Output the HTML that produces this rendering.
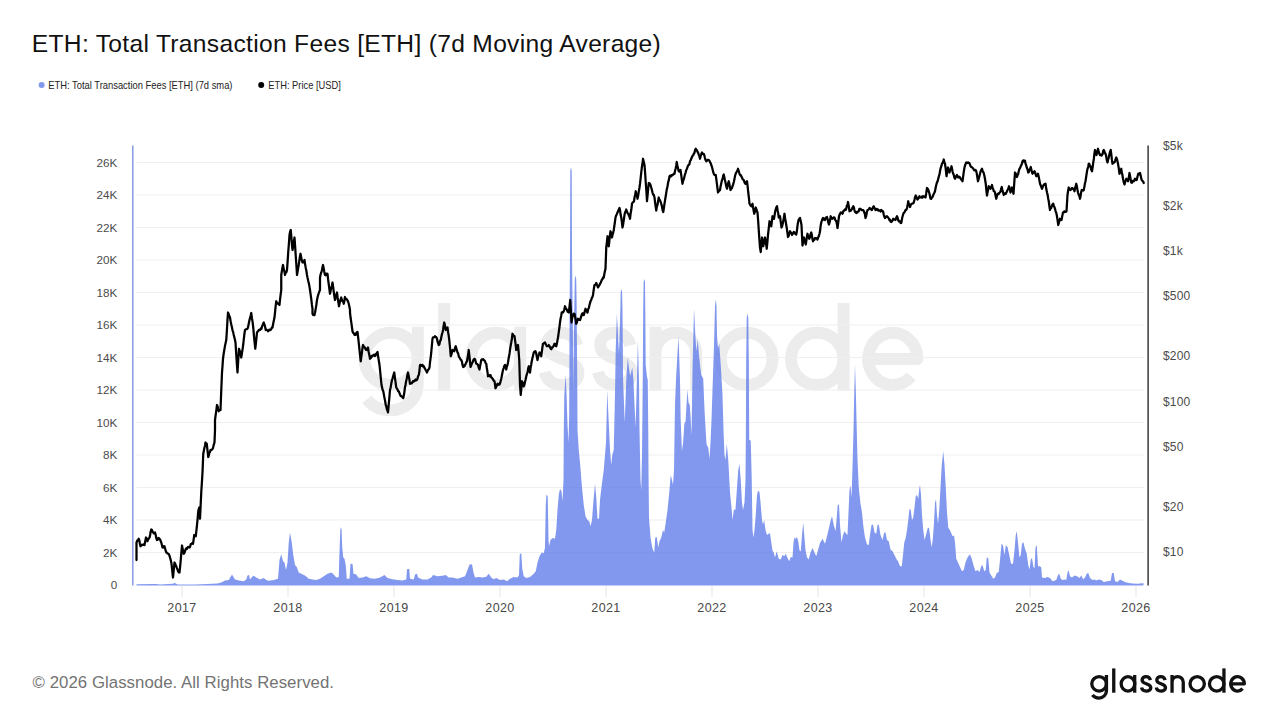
<!DOCTYPE html>
<html><head><meta charset="utf-8"><title>ETH: Total Transaction Fees [ETH] (7d Moving Average)</title>
<style>
html,body{margin:0;padding:0;background:#fff;}
body{width:1280px;height:720px;overflow:hidden;position:relative;font-family:"Liberation Sans",sans-serif;}
svg{position:absolute;left:0;top:0;}
text{font-family:"Liberation Sans",sans-serif;}
</style></head><body>
<svg width="1280" height="720" viewBox="0 0 1280 720">
<defs><g id="logo" fill="none" stroke-width="3.3" stroke-linecap="butt" stroke-linejoin="round">
<ellipse cx="9" cy="-8.85" rx="7.35" ry="7.2"/>
<path d="M16.35,-17.7 V-2 A7.5,7.35 0 0 1 8.85,5.35 C6,5.35 3.8,4.2 2.3,2.3"/>
<path d="M23.65,-24.3 V0"/>
<ellipse cx="37.85" cy="-8.85" rx="6.8" ry="7.2"/>
<path d="M44.6,-17.7 V0"/>
<path id="ls" d="M60.3,-12.6 C59.8,-14.8 58.3,-16.05 56.0,-16.05 C53.6,-16.05 52.0,-14.6 52.0,-12.7 C52.0,-10.6 53.8,-9.7 56.2,-8.9 C58.8,-8.0 60.7,-7.1 60.7,-5.0 C60.7,-2.9 58.7,-1.65 56.2,-1.65 C53.6,-1.65 51.9,-3.0 51.4,-5.2"/>
<use href="#ls" x="14.7"/>
<path d="M81.95,0 V-17.7 M81.95,-10.45 A5.6,5.6 0 0 1 93.15,-10.45 V0"/>
<ellipse cx="107.1" cy="-8.85" rx="7.15" ry="7.2"/>
<ellipse cx="126.6" cy="-8.85" rx="7.25" ry="7.2"/>
<path d="M133.85,-24.3 V0"/>
<path d="M140.75,-8.85 H154.25 A6.8,7.2 0 1 0 152.5,-4.03"/>
</g></defs>
<rect width="1280" height="720" fill="#fff"/>
<!-- watermark -->
<use href="#logo" transform="translate(358.5,391) scale(3.624)" stroke="#ececec"/>
<!-- gridlines -->
<g stroke="#efefef" stroke-width="1.1"><line x1="136.5" x2="1143.8" y1="162.5" y2="162.5"/><line x1="136.5" x2="1143.8" y1="195.0" y2="195.0"/><line x1="136.5" x2="1143.8" y1="227.5" y2="227.5"/><line x1="136.5" x2="1143.8" y1="260.0" y2="260.0"/><line x1="136.5" x2="1143.8" y1="292.5" y2="292.5"/><line x1="136.5" x2="1143.8" y1="325.0" y2="325.0"/><line x1="136.5" x2="1143.8" y1="357.5" y2="357.5"/><line x1="136.5" x2="1143.8" y1="390.0" y2="390.0"/><line x1="136.5" x2="1143.8" y1="422.5" y2="422.5"/><line x1="136.5" x2="1143.8" y1="455.0" y2="455.0"/><line x1="136.5" x2="1143.8" y1="487.5" y2="487.5"/><line x1="136.5" x2="1143.8" y1="520.0" y2="520.0"/><line x1="136.5" x2="1143.8" y1="552.5" y2="552.5"/></g>
<g stroke="#e4e4e4" stroke-width="1"><line x1="182.0" x2="182.0" y1="586" y2="597"/><line x1="288.0" x2="288.0" y1="586" y2="597"/><line x1="394.0" x2="394.0" y1="586" y2="597"/><line x1="500.0" x2="500.0" y1="586" y2="597"/><line x1="606.0" x2="606.0" y1="586" y2="597"/><line x1="712.0" x2="712.0" y1="586" y2="597"/><line x1="818.0" x2="818.0" y1="586" y2="597"/><line x1="924.0" x2="924.0" y1="586" y2="597"/><line x1="1030.0" x2="1030.0" y1="586" y2="597"/><line x1="1136.0" x2="1136.0" y1="586" y2="597"/></g>
<!-- fee area -->
<path d="M136.50,585.50 L136.50,584.30 L152.50,584.00 L156.00,584.00 L160.00,584.60 L172.50,583.75 L175.00,583.00 L177.50,584.50 L195.00,584.50 L207.50,584.00 L217.50,583.50 L221.25,582.50 L225.00,580.50 L228.75,580.00 L232.00,574.50 L235.00,579.50 L238.75,580.50 L243.75,581.25 L246.25,579.50 L247.50,575.50 L249.00,575.00 L250.00,579.50 L252.00,577.00 L253.75,575.75 L256.25,577.50 L260.00,579.50 L263.75,578.00 L266.25,580.00 L268.75,580.75 L273.75,580.00 L278.00,578.75 L279.50,560.00 L281.25,554.25 L283.00,561.25 L284.50,562.50 L286.00,570.00 L287.50,562.50 L288.75,542.50 L290.00,532.50 L291.75,542.50 L293.25,555.00 L295.00,565.00 L296.75,567.00 L298.75,572.50 L301.25,573.75 L305.00,575.50 L308.75,578.75 L312.50,579.50 L316.25,580.00 L320.00,578.75 L323.75,576.25 L327.50,573.75 L331.25,572.50 L333.75,574.50 L336.25,577.50 L338.75,577.00 L339.30,558.00 L340.30,530.00 L341.00,527.00 L341.60,530.00 L342.20,547.50 L343.25,557.50 L344.50,558.75 L345.75,565.00 L346.75,578.75 L349.50,578.75 L350.50,563.75 L352.50,563.75 L353.50,573.75 L356.25,574.50 L358.75,578.00 L362.50,577.50 L366.25,576.25 L370.00,578.25 L375.00,578.75 L380.00,577.50 L384.50,575.00 L387.50,578.00 L392.50,579.25 L397.50,580.00 L402.50,580.50 L406.25,579.50 L407.00,569.25 L409.25,568.75 L410.00,578.75 L413.75,579.50 L415.00,574.50 L417.00,573.75 L418.00,577.50 L422.50,579.50 L427.50,579.50 L431.25,577.50 L433.00,575.00 L437.50,576.25 L442.50,575.75 L445.75,575.00 L448.75,577.50 L452.50,577.50 L457.50,578.75 L461.25,577.50 L465.00,576.25 L467.50,570.00 L469.50,564.50 L472.00,564.25 L473.50,572.50 L475.00,577.50 L478.75,577.00 L482.50,577.50 L486.25,576.75 L488.75,573.75 L491.25,577.50 L493.75,579.25 L496.25,578.00 L500.00,580.00 L503.75,579.50 L507.00,581.25 L510.00,578.75 L513.75,577.00 L517.50,577.50 L519.00,575.00 L519.75,554.50 L521.25,553.00 L522.25,568.75 L523.75,576.25 L526.25,578.00 L530.00,577.00 L533.75,573.75 L535.75,571.25 L537.50,562.50 L539.50,556.25 L541.75,552.50 L543.75,553.25 L545.00,547.50 L545.75,505.00 L546.50,494.50 L547.75,496.25 L548.50,540.00 L549.00,546.25 L550.50,540.00 L552.50,538.00 L555.00,538.75 L556.25,530.00 L557.50,510.00 L558.75,495.00 L560.00,488.75 L561.50,491.25 L562.50,501.25 L563.50,480.00 L563.80,430.00 L564.30,395.00 L565.60,374.50 L566.60,395.00 L567.50,425.00 L568.50,443.00 L569.20,415.00 L569.60,315.00 L570.00,250.00 L570.30,171.00 L571.00,167.00 L571.70,171.00 L572.00,250.00 L572.50,300.00 L573.00,340.00 L573.50,390.00 L574.00,330.00 L574.40,300.00 L574.80,279.00 L575.50,275.50 L576.20,279.00 L576.60,300.00 L577.25,380.00 L577.50,430.00 L578.75,450.00 L580.00,462.50 L582.00,487.50 L583.75,505.00 L585.50,516.25 L587.50,520.00 L589.25,521.25 L590.50,526.25 L592.00,520.00 L593.50,500.00 L595.00,483.75 L596.25,497.50 L597.50,518.75 L599.00,518.75 L600.00,500.00 L601.75,485.00 L603.75,470.00 L605.00,455.00 L606.00,442.50 L607.25,390.60 L608.50,417.50 L610.00,450.00 L611.25,465.00 L612.25,455.00 L613.75,450.00 L614.75,405.00 L615.25,380.00 L615.70,350.00 L616.90,313.00 L618.25,340.00 L619.00,352.50 L619.80,330.00 L620.30,310.00 L620.70,292.00 L621.40,289.00 L622.10,292.00 L622.50,310.00 L623.10,380.00 L624.75,422.50 L626.25,380.00 L627.75,357.50 L629.40,371.00 L630.25,376.00 L632.25,367.50 L633.50,380.00 L633.90,392.00 L635.60,427.50 L636.90,380.00 L637.90,341.00 L639.00,380.00 L639.50,430.00 L640.50,480.00 L641.25,490.00 L642.00,455.00 L642.75,380.00 L643.20,310.00 L643.60,282.00 L644.30,279.00 L645.00,282.00 L645.30,310.00 L645.70,365.00 L646.90,376.00 L647.75,380.00 L648.25,430.00 L648.50,470.00 L649.00,517.50 L650.50,537.50 L652.50,548.75 L654.25,552.50 L655.25,537.50 L656.75,537.00 L658.25,547.50 L659.50,541.25 L661.25,537.50 L663.00,530.00 L664.25,532.50 L665.75,522.50 L667.50,510.00 L669.25,492.50 L670.75,475.00 L672.00,480.00 L673.00,485.00 L674.00,470.00 L675.00,405.00 L676.00,380.00 L677.50,352.50 L678.50,336.25 L679.50,365.00 L680.00,380.00 L680.60,417.50 L681.90,451.00 L683.10,442.50 L684.40,423.75 L685.60,421.25 L686.50,405.00 L687.50,389.40 L688.50,402.50 L689.75,405.00 L690.60,417.50 L691.50,435.00 L692.00,405.00 L692.50,370.00 L694.00,308.75 L695.60,340.00 L696.50,351.25 L697.75,339.40 L698.75,352.50 L700.00,365.00 L701.25,375.00 L703.25,378.75 L704.50,410.00 L706.25,440.00 L706.75,445.00 L708.25,447.50 L709.50,459.00 L710.50,442.50 L711.50,420.00 L712.50,390.00 L714.00,345.00 L715.00,306.00 L715.75,299.50 L716.50,306.00 L717.00,335.00 L718.00,348.75 L719.25,343.75 L720.75,365.00 L722.50,395.00 L723.50,430.00 L724.50,455.00 L725.50,460.00 L726.75,443.75 L728.25,460.00 L730.00,492.50 L731.75,510.00 L732.50,520.00 L733.75,510.00 L735.50,509.50 L737.00,487.50 L738.25,470.00 L739.50,463.75 L740.75,480.00 L742.00,502.50 L743.00,510.00 L744.50,502.50 L745.50,480.00 L745.90,430.00 L746.20,360.00 L746.70,318.00 L747.50,313.50 L748.30,318.00 L748.80,360.00 L749.25,440.00 L750.00,440.00 L750.75,441.25 L751.75,480.00 L752.50,530.00 L753.50,537.50 L754.50,530.00 L755.75,515.00 L757.00,495.00 L758.00,490.75 L759.50,492.00 L760.75,505.00 L762.00,520.00 L763.00,524.50 L764.25,520.00 L765.50,530.00 L767.00,535.00 L768.75,533.75 L770.00,533.00 L771.25,542.50 L772.50,550.50 L773.75,552.50 L775.00,557.50 L776.75,551.25 L778.75,558.75 L780.75,559.50 L782.50,555.00 L784.25,556.25 L785.75,553.75 L787.50,558.00 L789.25,561.25 L790.75,557.00 L792.50,557.50 L793.50,542.50 L794.50,537.50 L795.75,538.75 L797.00,537.00 L798.25,541.25 L799.50,550.50 L800.75,551.25 L802.00,535.00 L803.25,522.50 L804.25,535.00 L805.50,550.00 L807.00,557.50 L808.75,559.50 L810.50,552.50 L812.50,548.00 L814.50,552.50 L816.25,556.25 L818.00,550.00 L820.00,543.00 L822.50,538.75 L825.00,543.75 L827.00,536.25 L828.75,528.75 L830.50,521.25 L832.00,516.25 L833.75,525.00 L835.50,531.25 L836.75,517.50 L837.75,505.00 L839.00,504.50 L840.00,525.00 L841.50,542.50 L843.00,535.00 L844.50,531.25 L846.25,533.75 L847.50,535.00 L848.50,512.50 L849.50,490.00 L850.50,485.50 L851.50,497.50 L852.50,467.50 L853.50,430.00 L854.30,390.00 L855.00,365.00 L855.80,390.00 L856.75,430.00 L857.50,460.00 L858.75,487.50 L860.50,503.75 L862.00,512.50 L863.50,527.50 L865.00,537.50 L867.00,544.50 L868.75,545.00 L870.00,535.00 L871.50,525.00 L873.00,524.50 L874.50,532.50 L876.25,533.75 L877.50,525.00 L878.75,524.50 L880.50,535.00 L882.50,540.00 L884.25,532.50 L885.50,532.50 L887.00,540.00 L888.75,541.25 L890.50,549.50 L892.50,551.25 L894.50,555.00 L896.25,558.75 L898.00,561.25 L900.00,566.25 L901.75,566.25 L903.00,555.00 L904.25,542.50 L905.50,538.75 L907.00,530.00 L908.25,520.00 L909.50,508.75 L910.75,510.00 L912.00,520.00 L913.25,517.50 L914.50,507.50 L915.75,496.25 L917.00,495.00 L918.25,498.75 L919.25,488.75 L920.00,485.00 L921.00,495.00 L922.00,515.00 L923.25,530.00 L924.50,540.00 L926.00,535.00 L927.50,528.75 L929.00,527.50 L930.25,537.50 L931.50,547.50 L932.75,540.00 L934.00,522.50 L935.00,502.50 L936.00,499.50 L937.00,515.00 L938.00,523.75 L939.25,510.00 L940.50,487.50 L941.75,465.00 L943.25,451.25 L944.50,465.00 L945.75,487.50 L947.00,512.50 L948.25,527.50 L949.50,529.50 L951.00,532.50 L952.50,536.25 L954.00,535.50 L955.00,542.50 L956.25,558.75 L958.00,562.50 L960.00,567.00 L962.00,571.25 L963.75,570.00 L965.50,562.50 L967.50,557.50 L970.00,554.25 L971.75,558.75 L973.75,566.25 L975.50,571.25 L977.50,570.00 L979.50,572.00 L981.25,566.25 L982.50,565.00 L984.25,571.25 L985.75,570.00 L986.75,557.50 L988.25,558.00 L989.50,572.50 L991.25,575.50 L993.25,578.75 L995.00,577.50 L996.75,573.00 L998.75,572.00 L1000.00,560.00 L1001.50,543.75 L1003.00,545.50 L1004.50,555.00 L1005.75,545.50 L1007.50,547.00 L1009.25,555.00 L1011.00,563.75 L1013.00,563.75 L1014.50,550.00 L1015.75,535.00 L1016.75,531.25 L1018.00,542.50 L1019.50,557.50 L1020.75,555.00 L1022.00,543.75 L1023.25,542.00 L1025.00,548.75 L1026.75,553.75 L1028.25,565.00 L1029.50,569.50 L1030.75,559.50 L1032.00,558.00 L1033.25,566.25 L1034.50,568.75 L1035.50,547.50 L1036.75,545.00 L1038.00,566.25 L1040.00,566.25 L1041.25,567.50 L1042.00,577.50 L1045.00,578.00 L1047.50,577.00 L1050.00,578.00 L1052.50,581.25 L1056.25,580.00 L1058.00,575.00 L1059.25,573.75 L1060.75,578.75 L1062.50,580.00 L1064.50,579.50 L1066.25,580.00 L1067.50,572.50 L1068.50,570.00 L1070.00,576.25 L1072.00,577.50 L1074.50,575.50 L1077.00,576.25 L1079.50,578.00 L1081.25,575.50 L1083.25,579.50 L1085.00,577.50 L1086.75,573.75 L1088.25,573.00 L1090.00,578.00 L1092.50,580.00 L1094.50,579.50 L1096.25,580.50 L1098.75,579.50 L1101.25,580.00 L1103.75,582.00 L1107.50,581.25 L1110.75,580.75 L1112.00,573.00 L1113.75,573.00 L1115.00,581.25 L1117.50,582.00 L1120.00,579.50 L1122.00,580.50 L1125.00,582.00 L1128.75,583.00 L1132.50,583.50 L1137.50,583.70 L1142.50,583.30 L1143.50,583.30 L1143.50,585.50 Z" fill="#627EEA" fill-opacity="0.8" stroke="none"/>
<!-- axes -->
<line x1="132.8" x2="132.8" y1="145.5" y2="585.5" stroke="#7f95e6" stroke-width="1.4"/>
<line x1="1148.1" x2="1148.1" y1="145.5" y2="585.5" stroke="#2a2a2a" stroke-width="1.4"/>
<!-- price -->
<path d="M136.50,560.00 L136.50,542.50 L137.06,541.25 L137.62,540.00 L138.19,539.96 L138.75,538.75 L139.33,540.48 L139.92,543.81 L140.50,546.25 L141.17,545.59 L141.83,544.62 L142.50,545.00 L143.17,545.01 L143.83,544.17 L144.50,545.00 L145.25,541.13 L146.00,537.50 L146.75,538.60 L147.50,541.25 L148.17,539.26 L148.83,538.61 L149.50,537.50 L150.08,535.42 L150.67,531.49 L151.25,529.50 L151.92,530.00 L152.58,531.73 L153.25,532.50 L153.83,533.31 L154.42,532.64 L155.00,532.50 L155.67,534.81 L156.33,538.36 L157.00,540.00 L157.58,538.52 L158.17,539.31 L158.75,538.00 L159.42,538.70 L160.08,539.53 L160.75,541.25 L161.33,542.65 L161.92,545.07 L162.50,547.50 L163.17,547.65 L163.83,546.09 L164.50,546.25 L165.08,548.48 L165.67,550.67 L166.25,552.50 L166.92,552.69 L167.58,553.42 L168.25,553.75 L168.83,554.21 L169.42,555.46 L170.00,557.50 L170.75,560.10 L171.50,563.75 L172.25,570.95 L173.00,577.50 L173.75,569.87 L174.50,562.50 L175.08,563.42 L175.67,565.15 L176.25,566.25 L176.83,567.83 L177.42,569.22 L178.00,571.25 L178.75,572.40 L179.50,572.50 L180.12,566.61 L180.75,560.00 L181.38,552.29 L182.00,545.50 L182.58,548.38 L183.17,551.05 L183.75,553.75 L184.33,553.01 L184.92,551.33 L185.50,549.50 L186.17,548.45 L186.83,549.03 L187.50,547.50 L188.17,546.81 L188.83,547.35 L189.50,547.50 L190.08,546.71 L190.67,544.37 L191.25,543.75 L191.83,543.73 L192.42,542.92 L193.00,543.75 L193.62,539.68 L194.25,535.00 L195.00,536.10 L195.75,536.25 L196.38,530.76 L197.00,525.00 L197.62,518.80 L198.25,511.25 L198.75,509.04 L199.25,507.50 L200.00,518.75 L200.62,505.98 L201.25,492.50 L201.88,482.67 L202.50,472.50 L203.25,453.75 L203.81,451.08 L204.38,448.05 L204.94,445.92 L205.50,442.50 L206.12,443.93 L206.75,443.75 L207.50,450.33 L208.25,457.00 L208.81,455.55 L209.38,452.71 L209.94,452.11 L210.50,450.00 L211.12,449.76 L211.75,449.89 L212.38,449.08 L213.00,448.00 L213.75,444.86 L214.50,442.50 L215.00,430.00 L215.00,420.00 L215.67,414.79 L216.33,410.30 L217.00,405.00 L217.58,406.22 L218.17,409.10 L218.75,411.25 L219.33,410.24 L219.92,409.73 L220.50,410.00 L221.25,390.46 L222.00,372.50 L222.50,366.11 L223.00,358.75 L223.75,353.08 L224.50,348.75 L225.08,345.38 L225.67,342.72 L226.25,340.00 L226.83,331.50 L227.42,320.91 L228.00,312.50 L228.67,314.08 L229.33,315.92 L230.00,317.50 L230.67,321.52 L231.33,324.74 L232.00,327.50 L232.58,330.66 L233.17,332.10 L233.75,335.00 L234.33,337.35 L234.92,339.75 L235.50,342.50 L236.17,353.19 L236.83,363.32 L237.50,372.50 L238.25,360.00 L239.00,348.75 L239.56,350.35 L240.12,352.64 L240.69,354.83 L241.25,357.50 L241.83,353.72 L242.42,350.16 L243.00,346.25 L243.67,340.41 L244.33,334.52 L245.00,330.00 L245.62,329.54 L246.25,329.14 L246.88,329.18 L247.50,328.75 L248.17,326.65 L248.83,323.26 L249.50,320.00 L250.08,317.69 L250.67,315.55 L251.25,313.00 L251.92,318.15 L252.58,321.86 L253.25,327.50 L253.92,335.30 L254.58,342.17 L255.25,348.75 L255.83,344.01 L256.42,338.45 L257.00,332.50 L257.62,331.68 L258.25,331.07 L258.88,329.91 L259.50,330.00 L260.17,329.83 L260.83,328.38 L261.50,328.75 L262.06,326.41 L262.62,325.10 L263.19,323.45 L263.75,322.50 L264.42,324.71 L265.08,326.69 L265.75,330.00 L266.31,329.41 L266.88,330.00 L267.44,330.22 L268.00,331.25 L268.67,330.59 L269.33,329.56 L270.00,330.00 L270.62,330.05 L271.25,328.96 L271.88,327.49 L272.50,327.50 L273.17,323.72 L273.83,320.56 L274.50,317.50 L275.08,311.84 L275.67,305.99 L276.25,301.25 L276.90,302.63 L277.55,303.64 L278.20,303.44 L278.85,304.22 L279.50,305.00 L280.08,299.25 L280.67,294.28 L281.25,290.00 L281.25,275.00 L281.83,271.38 L282.42,267.91 L283.00,265.00 L283.67,268.93 L284.33,271.06 L285.00,275.00 L285.67,272.47 L286.33,272.48 L287.00,270.00 L287.62,261.30 L288.25,251.86 L288.88,243.83 L289.50,235.00 L290.12,231.65 L290.75,230.00 L291.33,236.72 L291.92,244.19 L292.50,250.00 L293.17,246.49 L293.83,242.02 L294.50,237.50 L295.12,246.45 L295.75,256.01 L296.38,265.03 L297.00,275.00 L297.58,271.95 L298.17,267.98 L298.75,264.88 L299.33,260.53 L299.92,256.79 L300.50,253.75 L301.17,257.23 L301.83,260.46 L302.50,262.50 L303.17,262.30 L303.83,261.38 L304.50,260.00 L305.12,264.32 L305.75,267.93 L306.38,270.76 L307.00,275.00 L307.60,278.03 L308.20,280.74 L308.80,283.15 L309.40,286.15 L310.00,290.00 L310.62,294.29 L311.25,298.94 L311.88,304.41 L312.50,308.75 L312.50,313.75 L313.17,314.99 L313.83,314.49 L314.50,315.00 L315.10,312.29 L315.70,308.88 L316.30,305.32 L316.90,300.76 L317.50,297.50 L318.12,295.12 L318.75,293.26 L319.38,291.33 L320.00,290.00 L320.00,277.50 L320.60,274.47 L321.20,272.72 L321.80,270.72 L322.40,268.11 L323.00,265.00 L323.67,268.30 L324.33,271.94 L325.00,275.00 L325.62,275.23 L326.25,273.63 L326.88,274.35 L327.50,273.75 L328.12,279.49 L328.75,284.26 L329.38,289.20 L330.00,293.75 L330.62,290.90 L331.25,287.55 L331.88,285.83 L332.50,282.50 L333.12,286.57 L333.75,291.79 L334.38,296.47 L335.00,300.00 L335.67,297.31 L336.33,294.82 L337.00,292.50 L337.67,297.89 L338.33,302.07 L339.00,306.25 L339.56,303.47 L340.12,301.20 L340.69,299.06 L341.25,297.50 L341.88,299.79 L342.50,301.18 L343.12,301.55 L343.75,303.75 L344.38,300.96 L345.00,297.00 L345.60,298.71 L346.20,298.98 L346.80,299.28 L347.40,300.49 L348.00,301.25 L348.67,303.50 L349.33,306.21 L350.00,310.00 L350.00,312.50 L350.62,318.04 L351.25,322.14 L351.88,326.61 L352.50,331.25 L353.12,332.97 L353.75,333.01 L354.38,334.73 L355.00,335.00 L355.62,334.84 L356.25,332.98 L356.88,332.30 L357.50,332.00 L358.17,337.63 L358.83,343.53 L359.50,350.00 L360.12,355.78 L360.75,361.25 L361.31,356.75 L361.88,352.98 L362.44,348.40 L363.00,345.00 L363.65,346.74 L364.30,346.74 L364.95,347.92 L365.60,349.15 L366.25,350.00 L366.83,349.89 L367.42,348.19 L368.00,347.50 L368.67,352.00 L369.33,355.00 L370.00,358.75 L370.60,358.16 L371.20,357.49 L371.80,355.93 L372.40,356.04 L373.00,355.50 L373.62,354.93 L374.25,354.61 L374.88,356.04 L375.50,355.50 L376.17,353.74 L376.83,353.12 L377.50,352.00 L378.17,356.74 L378.83,360.77 L379.50,365.00 L380.17,371.35 L380.83,378.37 L381.50,385.00 L382.06,387.29 L382.62,389.89 L383.19,390.85 L383.75,393.75 L384.42,397.61 L385.08,400.80 L385.75,405.00 L386.31,406.47 L386.88,409.24 L387.44,410.64 L388.00,412.50 L388.67,405.11 L389.33,397.97 L390.00,390.00 L390.67,387.41 L391.33,383.23 L392.00,380.00 L392.56,378.33 L393.12,376.26 L393.69,374.40 L394.25,372.50 L394.92,377.85 L395.58,382.41 L396.25,387.50 L396.88,388.50 L397.50,389.34 L398.12,391.11 L398.75,391.25 L399.38,392.86 L400.00,394.43 L400.62,395.80 L401.25,396.25 L401.92,396.40 L402.58,397.52 L403.25,398.00 L403.81,395.55 L404.38,392.11 L404.94,387.60 L405.50,385.00 L406.12,381.19 L406.75,378.65 L407.38,374.86 L408.00,372.50 L408.67,375.78 L409.33,379.23 L410.00,383.75 L410.62,383.62 L411.25,383.39 L411.88,383.15 L412.50,382.00 L413.12,381.00 L413.75,381.64 L414.38,381.16 L415.00,380.50 L415.62,379.42 L416.25,380.31 L416.88,380.03 L417.50,378.75 L418.08,376.16 L418.67,375.40 L419.25,372.50 L420.00,365.00 L420.62,364.82 L421.25,364.98 L421.88,365.88 L422.50,365.00 L423.12,366.54 L423.75,366.27 L424.38,367.69 L425.00,368.75 L425.67,370.03 L426.33,370.96 L427.00,372.50 L427.62,370.70 L428.25,369.67 L428.88,369.15 L429.50,367.50 L430.08,361.64 L430.67,357.60 L431.25,352.50 L431.88,345.52 L432.50,338.75 L433.12,337.26 L433.75,337.20 L434.38,337.10 L435.00,336.25 L435.67,337.11 L436.33,337.13 L437.00,338.75 L437.58,341.71 L438.17,343.44 L438.75,345.00 L439.42,344.18 L440.08,340.96 L440.75,340.00 L441.33,337.08 L441.92,334.17 L442.50,332.50 L443.08,329.67 L443.67,325.42 L444.25,322.50 L445.00,325.58 L445.75,330.00 L446.33,329.03 L446.92,329.07 L447.50,327.50 L448.08,332.24 L448.67,335.40 L449.25,340.00 L450.00,347.49 L450.75,356.25 L451.33,354.92 L451.92,352.21 L452.50,350.00 L453.08,350.78 L453.67,350.09 L454.25,351.25 L455.00,347.95 L455.75,346.25 L456.33,348.67 L456.92,350.28 L457.50,352.50 L458.17,353.40 L458.83,356.62 L459.50,357.50 L460.08,358.58 L460.67,359.71 L461.25,360.00 L461.92,361.58 L462.58,365.31 L463.25,367.00 L463.83,365.55 L464.42,366.32 L465.00,365.00 L465.67,363.67 L466.33,362.21 L467.00,361.25 L467.58,357.60 L468.17,354.52 L468.75,350.00 L469.33,355.25 L469.92,360.67 L470.50,367.00 L471.17,365.55 L471.83,363.53 L472.50,362.50 L473.17,360.55 L473.83,359.39 L474.50,358.75 L475.08,359.61 L475.67,361.55 L476.25,363.75 L476.83,363.83 L477.42,364.23 L478.00,365.00 L478.75,367.72 L479.50,369.50 L480.08,365.96 L480.67,363.17 L481.25,360.00 L481.88,359.42 L482.50,359.72 L483.12,359.13 L483.75,360.00 L484.38,360.49 L485.00,361.00 L485.62,363.23 L486.25,363.75 L486.83,368.01 L487.42,371.52 L488.00,376.25 L488.67,375.79 L489.33,376.20 L490.00,375.00 L490.62,375.23 L491.25,377.45 L491.88,377.69 L492.50,378.75 L493.17,379.57 L493.83,381.02 L494.50,381.25 L495.00,384.56 L495.50,388.25 L496.17,386.76 L496.83,385.59 L497.50,383.75 L498.17,384.87 L498.83,383.97 L499.50,384.50 L500.08,383.18 L500.67,381.04 L501.25,378.75 L501.83,376.08 L502.42,372.75 L503.00,370.00 L503.67,368.06 L504.33,365.86 L505.00,365.00 L505.62,366.58 L506.25,369.50 L506.83,366.39 L507.42,365.27 L508.00,362.50 L508.75,357.69 L509.50,353.75 L510.08,349.39 L510.67,345.50 L511.25,342.50 L511.88,338.74 L512.50,333.75 L513.17,335.25 L513.83,335.72 L514.50,336.25 L515.08,340.44 L515.67,344.95 L516.25,350.00 L516.83,347.96 L517.42,346.59 L518.00,345.00 L518.62,351.88 L519.25,360.00 L520.00,385.00 L520.75,395.00 L521.38,388.03 L522.00,381.25 L522.58,382.49 L523.17,385.41 L523.75,386.25 L524.33,385.02 L524.92,382.17 L525.50,380.00 L526.25,376.42 L527.00,373.75 L527.58,372.09 L528.17,368.41 L528.75,366.25 L529.38,369.12 L530.00,372.50 L530.58,367.85 L531.17,364.79 L531.75,361.25 L532.42,358.29 L533.08,355.42 L533.75,352.50 L534.33,351.55 L534.92,351.68 L535.50,351.25 L536.17,353.28 L536.83,356.66 L537.50,360.00 L538.17,356.76 L538.83,354.82 L539.50,352.50 L540.08,352.93 L540.67,354.14 L541.25,356.25 L541.83,351.73 L542.42,347.44 L543.00,343.75 L543.67,343.49 L544.33,342.97 L545.00,342.50 L545.67,344.20 L546.33,345.28 L547.00,346.25 L547.58,346.22 L548.17,346.10 L548.75,345.00 L549.42,346.05 L550.08,347.19 L550.75,348.75 L551.33,349.21 L551.92,347.29 L552.50,347.50 L553.17,346.65 L553.83,345.26 L554.50,343.75 L555.08,343.76 L555.67,346.02 L556.25,346.25 L556.83,344.04 L557.42,340.65 L558.00,337.50 L558.67,332.92 L559.33,328.06 L560.00,322.50 L560.58,318.52 L561.17,315.88 L561.75,312.50 L562.42,312.09 L563.08,312.27 L563.75,311.25 L564.38,309.30 L565.00,306.25 L565.67,308.09 L566.33,308.90 L567.00,310.00 L567.58,311.54 L568.17,312.00 L568.75,312.50 L569.50,306.60 L570.25,300.00 L570.88,310.76 L571.50,322.50 L572.25,317.91 L573.00,315.00 L573.75,313.71 L574.50,313.75 L575.08,316.83 L575.67,319.71 L576.25,323.75 L576.83,322.69 L577.42,320.52 L578.00,318.75 L578.67,319.40 L579.33,319.81 L580.00,320.00 L580.67,318.24 L581.33,315.81 L582.00,313.75 L582.58,313.27 L583.17,315.12 L583.75,315.00 L584.33,313.36 L584.92,310.84 L585.50,308.75 L586.17,310.06 L586.83,311.54 L587.50,312.50 L588.17,309.22 L588.83,307.93 L589.50,305.00 L590.08,302.89 L590.67,300.90 L591.25,300.00 L591.83,297.91 L592.42,297.08 L593.00,295.00 L593.75,289.47 L594.50,285.00 L595.08,284.77 L595.67,284.52 L596.25,283.00 L596.83,284.49 L597.42,285.79 L598.00,287.50 L598.67,286.21 L599.33,285.33 L600.00,283.75 L600.67,282.81 L601.33,281.13 L602.00,279.50 L602.58,279.09 L603.17,277.41 L603.75,277.50 L604.33,273.95 L604.92,271.22 L605.50,268.75 L606.25,247.50 L606.88,242.31 L607.50,236.25 L608.12,240.90 L608.75,246.25 L609.33,241.37 L609.92,235.37 L610.50,231.25 L611.25,233.58 L612.00,237.50 L612.58,234.58 L613.17,232.81 L613.75,230.00 L614.33,226.18 L614.92,221.98 L615.50,217.50 L616.17,215.46 L616.83,214.20 L617.50,212.50 L618.17,210.94 L618.83,209.44 L619.50,208.00 L620.08,210.48 L620.67,215.04 L621.25,217.50 L621.88,221.96 L622.50,227.50 L623.17,224.19 L623.83,219.95 L624.50,215.00 L625.08,212.30 L625.67,211.26 L626.25,209.50 L626.92,211.49 L627.58,213.18 L628.25,213.75 L628.83,215.33 L629.42,216.67 L630.00,218.75 L630.67,213.23 L631.33,209.55 L632.00,203.75 L632.67,202.40 L633.33,202.23 L634.00,201.25 L634.58,197.27 L635.17,194.63 L635.75,191.25 L636.33,194.56 L636.92,195.59 L637.50,198.75 L638.17,195.58 L638.83,191.27 L639.50,187.50 L640.08,183.20 L640.67,177.87 L641.25,172.50 L641.83,167.43 L642.42,164.05 L643.00,158.75 L643.75,161.85 L644.50,165.00 L645.12,172.89 L645.75,182.50 L646.38,190.98 L647.00,201.25 L647.58,195.15 L648.17,188.99 L648.75,183.00 L649.33,183.31 L649.92,183.69 L650.50,185.00 L651.17,187.22 L651.83,189.67 L652.50,192.50 L653.17,194.78 L653.83,194.94 L654.50,197.50 L655.08,202.28 L655.67,206.78 L656.25,210.50 L656.88,206.57 L657.50,204.77 L658.12,201.13 L658.75,197.50 L659.38,199.79 L660.00,200.25 L660.62,201.96 L661.25,203.75 L661.92,206.31 L662.58,210.15 L663.25,212.00 L663.81,208.54 L664.38,204.50 L664.94,201.00 L665.50,197.50 L666.17,193.35 L666.83,189.19 L667.50,186.25 L668.17,182.20 L668.83,180.19 L669.50,176.25 L670.12,175.68 L670.75,176.66 L671.38,175.24 L672.00,175.50 L672.62,174.64 L673.25,174.64 L673.88,173.63 L674.50,173.75 L675.06,170.58 L675.62,168.70 L676.19,165.63 L676.75,162.00 L677.42,165.64 L678.08,168.40 L678.75,171.25 L679.33,171.58 L679.92,171.21 L680.50,170.00 L681.17,174.67 L681.83,179.56 L682.50,183.75 L683.17,180.44 L683.83,179.17 L684.50,176.25 L685.08,174.08 L685.67,172.54 L686.25,170.00 L686.88,169.01 L687.50,167.12 L688.12,165.44 L688.75,165.00 L689.38,164.21 L690.00,161.20 L690.62,160.26 L691.25,158.75 L691.88,157.22 L692.50,155.89 L693.12,155.43 L693.75,153.75 L694.42,152.94 L695.08,149.98 L695.75,148.75 L696.31,149.97 L696.88,150.27 L697.44,151.67 L698.00,152.50 L698.67,154.39 L699.33,156.07 L700.00,158.75 L700.67,156.06 L701.33,154.06 L702.00,152.50 L702.56,153.86 L703.12,153.74 L703.69,153.87 L704.25,155.00 L704.92,157.81 L705.58,160.06 L706.25,161.25 L706.88,160.85 L707.50,159.98 L708.12,159.76 L708.75,160.00 L709.38,160.51 L710.00,162.22 L710.62,163.01 L711.25,165.00 L711.88,166.72 L712.50,168.94 L713.12,171.69 L713.75,173.75 L714.42,174.86 L715.08,175.03 L715.75,175.00 L716.31,179.22 L716.88,183.59 L717.44,188.17 L718.00,192.50 L718.67,191.45 L719.33,190.54 L720.00,190.00 L720.67,185.88 L721.33,182.93 L722.00,180.00 L722.58,179.01 L723.17,175.66 L723.75,174.50 L724.33,177.17 L724.92,180.07 L725.50,182.50 L726.25,186.28 L727.00,188.75 L727.58,185.74 L728.17,183.34 L728.75,181.25 L729.33,183.71 L729.92,186.90 L730.50,190.00 L731.17,188.65 L731.83,188.32 L732.50,186.25 L733.17,184.38 L733.83,181.92 L734.50,178.75 L735.08,175.81 L735.67,173.74 L736.25,172.50 L736.83,171.63 L737.42,170.71 L738.00,168.75 L738.67,170.79 L739.33,173.07 L740.00,175.00 L740.67,174.93 L741.33,176.47 L742.00,177.50 L742.58,179.10 L743.17,179.75 L743.75,180.00 L744.33,181.89 L744.92,183.35 L745.50,183.75 L746.25,182.05 L747.00,181.25 L747.62,186.17 L748.25,192.50 L748.88,197.50 L749.50,203.75 L750.08,204.62 L750.67,205.74 L751.25,206.25 L751.88,205.79 L752.50,203.75 L753.08,207.48 L753.67,210.68 L754.25,213.75 L755.00,211.10 L755.75,207.50 L756.33,209.09 L756.92,210.93 L757.50,212.50 L758.12,220.42 L758.75,230.00 L759.38,239.26 L760.00,247.50 L760.75,252.00 L761.38,244.27 L762.00,237.50 L762.62,242.63 L763.25,246.25 L763.83,243.60 L764.42,240.06 L765.00,237.50 L765.58,240.58 L766.17,244.55 L766.75,248.75 L767.38,242.12 L768.00,235.00 L768.75,228.48 L769.50,221.25 L770.08,222.22 L770.67,223.81 L771.25,226.25 L771.88,221.29 L772.50,216.25 L773.25,217.65 L774.00,218.75 L774.75,214.17 L775.50,210.00 L776.25,207.63 L777.00,206.25 L777.58,210.18 L778.17,212.87 L778.75,217.50 L779.38,216.52 L780.00,216.25 L780.75,221.80 L781.50,227.50 L782.25,225.83 L783.00,222.50 L783.75,218.39 L784.50,213.75 L785.08,218.19 L785.67,221.21 L786.25,225.00 L786.83,228.52 L787.42,232.54 L788.00,237.00 L788.67,235.91 L789.33,233.54 L790.00,231.25 L790.67,232.15 L791.33,232.89 L792.00,235.00 L792.58,234.00 L793.17,233.31 L793.75,232.00 L794.38,232.48 L795.00,232.81 L795.62,234.18 L796.25,234.50 L796.92,230.85 L797.58,225.17 L798.25,221.25 L798.83,219.33 L799.42,218.79 L800.00,218.00 L800.75,221.36 L801.50,225.00 L802.00,235.58 L802.50,245.50 L803.25,240.96 L804.00,237.50 L804.58,240.37 L805.17,242.60 L805.75,244.50 L806.33,240.93 L806.92,236.80 L807.50,233.75 L808.08,236.26 L808.67,236.74 L809.25,238.75 L809.92,237.24 L810.58,234.10 L811.25,232.50 L811.83,234.92 L812.42,238.80 L813.00,241.25 L813.67,239.80 L814.33,239.90 L815.00,238.00 L815.62,238.37 L816.25,238.19 L816.88,238.63 L817.50,239.50 L818.17,237.43 L818.83,235.96 L819.50,233.75 L820.08,230.81 L820.67,225.61 L821.25,222.50 L821.83,220.81 L822.42,218.98 L823.00,218.00 L823.67,219.52 L824.33,218.69 L825.00,220.00 L825.67,218.19 L826.33,217.21 L827.00,217.00 L827.67,219.31 L828.33,222.72 L829.00,224.50 L829.58,222.44 L830.17,219.42 L830.75,216.25 L831.33,217.98 L831.92,218.69 L832.50,218.75 L833.17,218.03 L833.83,217.35 L834.50,217.50 L835.08,219.53 L835.67,220.44 L836.25,221.25 L836.88,223.78 L837.50,228.00 L838.25,222.42 L839.00,216.25 L839.58,214.78 L840.17,213.52 L840.75,212.50 L841.33,212.61 L841.92,212.74 L842.50,213.75 L843.17,211.61 L843.83,210.85 L844.50,210.00 L845.08,209.32 L845.67,209.99 L846.25,208.75 L846.83,205.82 L847.42,205.09 L848.00,202.00 L848.75,206.10 L849.50,211.25 L850.17,210.41 L850.83,210.66 L851.50,209.50 L852.08,209.00 L852.67,207.21 L853.25,206.25 L853.83,207.36 L854.42,210.04 L855.00,212.00 L855.62,211.90 L856.25,213.01 L856.88,211.82 L857.50,212.50 L858.12,211.32 L858.75,211.34 L859.38,208.84 L860.00,208.75 L860.62,208.90 L861.25,209.94 L861.88,210.17 L862.50,210.00 L863.17,210.17 L863.83,211.16 L864.50,213.00 L865.00,214.71 L865.50,218.00 L866.17,216.09 L866.83,212.23 L867.50,210.00 L868.17,209.78 L868.83,209.38 L869.50,208.00 L870.17,208.38 L870.83,208.92 L871.50,210.00 L872.06,209.89 L872.62,208.34 L873.19,206.76 L873.75,206.25 L874.33,207.89 L874.92,208.42 L875.50,210.00 L876.12,209.47 L876.75,208.86 L877.38,210.09 L878.00,209.50 L878.67,210.58 L879.33,210.41 L880.00,210.50 L880.60,211.45 L881.20,209.94 L881.80,210.47 L882.40,211.06 L883.00,211.25 L883.67,214.32 L884.33,216.57 L885.00,218.00 L885.67,217.21 L886.33,216.39 L887.00,216.25 L887.67,216.96 L888.33,217.90 L889.00,218.75 L889.56,220.33 L890.12,219.80 L890.69,221.73 L891.25,222.00 L891.92,221.35 L892.58,220.41 L893.25,218.75 L893.81,219.55 L894.38,219.57 L894.94,219.38 L895.50,220.00 L896.25,217.80 L897.00,216.25 L897.58,217.67 L898.17,220.09 L898.75,221.25 L899.38,220.93 L900.00,221.58 L900.62,223.02 L901.25,223.00 L901.83,219.88 L902.42,216.88 L903.00,215.00 L903.67,212.91 L904.33,212.59 L905.00,211.25 L905.67,209.85 L906.33,209.95 L907.00,208.00 L907.62,205.32 L908.25,201.25 L908.83,204.04 L909.42,204.66 L910.00,207.00 L910.67,205.17 L911.33,204.11 L912.00,203.75 L912.58,203.33 L913.17,203.29 L913.75,202.50 L914.42,200.07 L915.08,197.35 L915.75,195.50 L916.33,196.68 L916.92,198.38 L917.50,199.50 L918.17,198.73 L918.83,197.78 L919.50,196.25 L920.17,197.29 L920.83,197.38 L921.50,197.50 L922.06,196.51 L922.62,197.49 L923.19,196.19 L923.75,196.25 L924.33,196.79 L924.92,196.85 L925.50,197.50 L926.25,193.18 L927.00,188.00 L927.58,188.54 L928.17,189.71 L928.75,191.25 L929.33,193.29 L929.92,195.63 L930.50,198.75 L931.17,198.86 L931.83,197.72 L932.50,197.00 L933.17,195.19 L933.83,193.81 L934.50,192.50 L935.08,190.89 L935.67,187.51 L936.25,185.00 L936.92,182.43 L937.58,181.39 L938.25,178.75 L938.83,176.53 L939.42,174.63 L940.00,171.25 L940.67,168.03 L941.33,166.20 L942.00,163.75 L942.58,162.91 L943.17,161.53 L943.75,159.50 L944.38,162.37 L945.00,163.75 L945.75,169.17 L946.50,176.25 L947.25,171.50 L948.00,167.50 L948.75,169.31 L949.50,172.50 L950.17,169.86 L950.83,169.18 L951.50,166.25 L952.08,168.90 L952.67,172.02 L953.25,173.75 L953.83,175.19 L954.42,177.74 L955.00,178.75 L955.67,177.41 L956.33,175.82 L957.00,175.00 L957.58,176.33 L958.17,177.47 L958.75,177.50 L959.38,176.79 L960.00,177.50 L960.62,178.61 L961.25,179.59 L961.88,179.80 L962.50,181.25 L963.17,176.43 L963.83,171.44 L964.50,167.50 L965.08,165.30 L965.67,163.73 L966.25,162.50 L966.88,162.80 L967.50,163.02 L968.12,162.34 L968.75,163.00 L969.38,163.12 L970.00,164.69 L970.62,166.32 L971.25,167.00 L971.88,167.06 L972.50,167.91 L973.12,168.34 L973.75,169.50 L974.38,170.47 L975.00,170.46 L975.62,170.03 L976.25,171.25 L976.83,173.87 L977.42,177.73 L978.00,181.25 L978.67,178.84 L979.33,176.50 L980.00,173.75 L980.67,171.35 L981.33,169.81 L982.00,168.75 L982.56,170.66 L983.12,171.71 L983.69,173.05 L984.25,175.00 L985.00,179.03 L985.75,183.75 L986.38,190.44 L987.00,195.50 L987.58,192.08 L988.17,189.45 L988.75,186.25 L989.33,186.83 L989.92,187.77 L990.50,188.75 L991.25,187.53 L992.00,185.00 L992.58,187.98 L993.17,188.92 L993.75,191.25 L994.38,191.33 L995.00,192.50 L995.62,196.04 L996.25,198.75 L996.83,196.55 L997.42,194.53 L998.00,193.75 L998.67,194.06 L999.33,192.78 L1000.00,192.50 L1000.58,191.24 L1001.17,188.66 L1001.75,187.00 L1002.42,190.36 L1003.08,192.26 L1003.75,195.00 L1004.42,193.98 L1005.08,193.29 L1005.75,193.75 L1006.33,192.59 L1006.92,191.50 L1007.50,190.00 L1008.25,188.86 L1009.00,186.25 L1009.75,188.64 L1010.50,192.50 L1011.25,190.22 L1012.00,187.50 L1012.75,190.39 L1013.50,193.75 L1014.25,183.13 L1015.00,172.50 L1015.67,173.36 L1016.33,175.11 L1017.00,177.00 L1017.58,175.12 L1018.17,173.93 L1018.75,171.25 L1019.42,168.88 L1020.08,167.90 L1020.75,166.25 L1021.33,165.13 L1021.92,163.76 L1022.50,161.25 L1023.12,160.58 L1023.75,160.33 L1024.38,161.67 L1025.00,160.75 L1025.58,163.86 L1026.17,165.22 L1026.75,167.50 L1027.50,169.20 L1028.25,172.50 L1028.88,171.89 L1029.50,169.55 L1030.12,169.10 L1030.75,167.00 L1031.33,169.47 L1031.92,172.08 L1032.50,173.75 L1033.17,172.31 L1033.83,172.60 L1034.50,171.25 L1035.08,172.42 L1035.67,174.41 L1036.25,176.25 L1036.83,176.04 L1037.42,175.18 L1038.00,173.75 L1038.67,176.51 L1039.33,179.91 L1040.00,183.75 L1040.67,185.24 L1041.33,187.12 L1042.00,188.75 L1042.58,187.29 L1043.17,185.57 L1043.75,185.00 L1044.33,184.13 L1044.92,184.57 L1045.50,183.75 L1046.25,188.84 L1047.00,192.50 L1047.58,194.59 L1048.17,198.45 L1048.75,201.25 L1049.38,206.09 L1050.00,210.00 L1050.58,207.92 L1051.17,208.11 L1051.75,206.25 L1052.50,204.31 L1053.25,203.75 L1053.83,205.60 L1054.42,207.17 L1055.00,208.75 L1055.58,211.06 L1056.17,212.57 L1056.75,215.00 L1057.50,219.86 L1058.25,225.00 L1058.83,223.07 L1059.42,220.70 L1060.00,218.75 L1060.75,219.66 L1061.50,220.00 L1062.25,216.15 L1063.00,212.50 L1063.67,212.22 L1064.33,211.31 L1065.00,212.00 L1065.75,211.84 L1066.50,211.25 L1067.00,203.11 L1067.50,195.00 L1068.12,190.77 L1068.75,187.50 L1069.33,188.81 L1069.92,189.67 L1070.50,190.00 L1071.17,189.26 L1071.83,188.09 L1072.50,188.00 L1073.17,189.04 L1073.83,189.46 L1074.50,191.25 L1075.08,188.08 L1075.67,186.13 L1076.25,183.75 L1076.83,185.93 L1077.42,189.48 L1078.00,192.50 L1078.67,194.60 L1079.33,195.84 L1080.00,198.75 L1080.58,196.08 L1081.17,192.16 L1081.75,190.00 L1082.42,190.42 L1083.08,190.50 L1083.75,190.00 L1084.33,187.10 L1084.92,183.36 L1085.50,181.25 L1086.25,176.26 L1087.00,171.25 L1087.58,168.53 L1088.17,167.06 L1088.75,163.75 L1089.33,163.93 L1089.92,166.06 L1090.50,166.25 L1091.25,169.64 L1092.00,171.25 L1092.62,167.29 L1093.25,162.50 L1093.83,158.90 L1094.42,153.62 L1095.00,150.00 L1095.75,153.37 L1096.50,155.00 L1097.25,151.86 L1098.00,148.75 L1098.67,151.66 L1099.33,153.67 L1100.00,155.00 L1100.67,154.40 L1101.33,155.52 L1102.00,155.00 L1102.58,154.11 L1103.17,150.88 L1103.75,150.00 L1104.33,150.98 L1104.92,152.96 L1105.50,153.75 L1106.17,156.05 L1106.83,160.30 L1107.50,162.50 L1108.08,159.59 L1108.67,158.07 L1109.25,155.00 L1110.00,151.86 L1110.75,150.00 L1111.33,154.59 L1111.92,159.92 L1112.50,163.75 L1113.17,162.81 L1113.83,162.49 L1114.50,162.50 L1115.08,160.84 L1115.67,158.84 L1116.25,157.50 L1116.83,158.75 L1117.42,161.09 L1118.00,163.75 L1118.75,168.14 L1119.50,173.75 L1120.08,172.87 L1120.67,170.74 L1121.25,168.75 L1121.83,172.80 L1122.42,174.82 L1123.00,178.75 L1123.75,182.14 L1124.50,184.50 L1125.08,181.89 L1125.67,180.72 L1126.25,178.75 L1126.83,179.83 L1127.42,180.16 L1128.00,181.25 L1128.75,177.80 L1129.50,173.00 L1130.08,176.27 L1130.67,179.48 L1131.25,182.50 L1131.92,182.77 L1132.58,180.95 L1133.25,181.25 L1133.83,181.30 L1134.42,179.82 L1135.00,178.75 L1135.58,178.98 L1136.17,180.12 L1136.75,180.00 L1137.50,176.45 L1138.25,173.75 L1138.83,174.38 L1139.42,173.39 L1140.00,173.00 L1140.58,175.08 L1141.17,178.14 L1141.75,180.00 L1142.42,180.90 L1143.08,181.42 L1143.75,183.00" fill="none" stroke="#000" stroke-width="2.25" stroke-linejoin="round" stroke-linecap="round"/>
<!-- labels -->
<g font-size="11.7px" fill="#4c4c4c" letter-spacing="0"><text x="117.3" y="166.7" text-anchor="end">26K</text><text x="117.3" y="199.2" text-anchor="end">24K</text><text x="117.3" y="231.7" text-anchor="end">22K</text><text x="117.3" y="264.2" text-anchor="end">20K</text><text x="117.3" y="296.7" text-anchor="end">18K</text><text x="117.3" y="329.2" text-anchor="end">16K</text><text x="117.3" y="361.7" text-anchor="end">14K</text><text x="117.3" y="394.2" text-anchor="end">12K</text><text x="117.3" y="426.7" text-anchor="end">10K</text><text x="117.3" y="459.2" text-anchor="end">8K</text><text x="117.3" y="491.7" text-anchor="end">6K</text><text x="117.3" y="524.2" text-anchor="end">4K</text><text x="117.3" y="556.7" text-anchor="end">2K</text><text x="117.3" y="589.2" text-anchor="end">0</text></g>
<g font-size="12px" fill="#4c4c4c" letter-spacing="0.15"><text x="1163" y="149.9">$5k</text><text x="1163" y="209.7">$2k</text><text x="1163" y="255.1">$1k</text><text x="1163" y="300.4">$500</text><text x="1163" y="360.2">$200</text><text x="1163" y="405.6">$100</text><text x="1163" y="450.9">$50</text><text x="1163" y="510.7">$20</text><text x="1163" y="556.0">$10</text></g>
<g font-size="12.5px" fill="#484848" letter-spacing="0.4"><text x="182.0" y="611.6" text-anchor="middle">2017</text><text x="288.0" y="611.6" text-anchor="middle">2018</text><text x="394.0" y="611.6" text-anchor="middle">2019</text><text x="500.0" y="611.6" text-anchor="middle">2020</text><text x="606.0" y="611.6" text-anchor="middle">2021</text><text x="712.0" y="611.6" text-anchor="middle">2022</text><text x="818.0" y="611.6" text-anchor="middle">2023</text><text x="924.0" y="611.6" text-anchor="middle">2024</text><text x="1030.0" y="611.6" text-anchor="middle">2025</text><text x="1136.0" y="611.6" text-anchor="middle">2026</text></g>
<!-- title -->
<text id="title" x="31.8" y="52" font-size="24.6px" fill="#111" textLength="629" lengthAdjust="spacing">ETH: Total Transaction Fees [ETH] (7d Moving Average)</text>
<!-- legend -->
<circle cx="41.6" cy="85" r="3" fill="#627EEA" fill-opacity="0.8"/>
<text id="lg1" x="48.3" y="88.8" font-size="10.5px" fill="#222" textLength="184.2" lengthAdjust="spacingAndGlyphs">ETH: Total Transaction Fees [ETH] (7d sma)</text>
<circle cx="261.2" cy="85" r="3" fill="#000"/>
<text id="lg2" x="268.3" y="88.8" font-size="10.5px" fill="#222" textLength="72.5" lengthAdjust="spacingAndGlyphs">ETH: Price [USD]</text>
<!-- footer -->
<text id="ft" x="32.5" y="688.3" font-size="16.8px" fill="#737373" textLength="301.5" lengthAdjust="spacing">© 2026 Glassnode. All Rights Reserved.</text>
<use href="#logo" transform="translate(1090.1,692.7)" stroke="#111"/>
</svg>
</body></html>
